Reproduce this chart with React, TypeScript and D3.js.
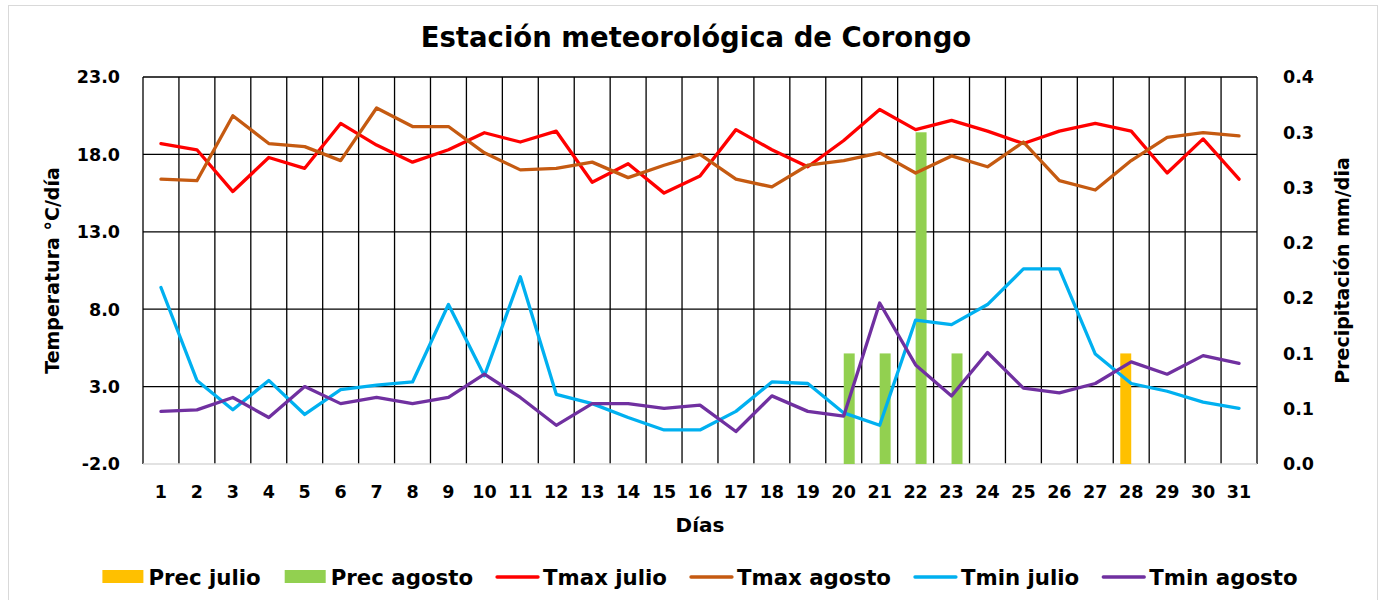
import * as d3 from "d3";
import { useEffect, useRef } from "react";

const days = ["1", "2", "3", "4", "5", "6", "7", "8", "9", "10", "11", "12", "13", "14", "15", "16",
  "17", "18", "19", "20", "21", "22", "23", "24", "25", "26", "27", "28", "29", "30", "31"];

const tmaxJulio = [18.7, 18.3, 15.6, 17.8, 17.1, 20.0, 18.6, 17.5, 18.3, 19.4, 18.8, 19.5, 16.2, 17.4, 15.5, 16.6,
  19.6, 18.3, 17.2, 18.9, 20.9, 19.6, 20.2, 19.5, 18.7, 19.5, 20.0, 19.5, 16.8, 19.0, 16.4];
const tmaxAgosto = [16.4, 16.3, 20.5, 18.7, 18.5, 17.6, 21.0, 19.8, 19.8, 18.1, 17.0, 17.1, 17.5, 16.5, 17.3, 18.0,
  16.4, 15.9, 17.3, 17.6, 18.1, 16.8, 17.9, 17.2, 18.8, 16.3, 15.7, 17.6, 19.1, 19.4, 19.2];
const tminJulio = [9.4, 3.4, 1.5, 3.4, 1.2, 2.8, 3.1, 3.3, 8.3, 3.7, 10.1, 2.5, 1.9, 1.0, 0.2, 0.2,
  1.4, 3.3, 3.2, 1.3, 0.5, 7.3, 7.0, 8.3, 10.6, 10.6, 5.1, 3.2, 2.7, 2.0, 1.6];
const tminAgosto = [1.4, 1.5, 2.3, 1.0, 3.0, 1.9, 2.3, 1.9, 2.3, 3.8, 2.3, 0.5, 1.9, 1.9, 1.6, 1.8,
  0.1, 2.4, 1.4, 1.1, 8.4, 4.4, 2.4, 5.2, 2.9, 2.6, 3.2, 4.6, 3.8, 5.0, 4.5];

const precJulio = [0, 0, 0, 0, 0, 0, 0, 0, 0, 0, 0, 0, 0, 0, 0, 0,
  0, 0, 0, 0, 0, 0, 0, 0, 0, 0, 0, 0.1, 0, 0, 0];
const precAgosto = [0, 0, 0, 0, 0, 0, 0, 0, 0, 0, 0, 0, 0, 0, 0, 0,
  0, 0, 0, 0.1, 0.1, 0.3, 0.1, 0, 0, 0, 0, 0, 0, 0, 0];

const tempTicks = [-2, 3, 8, 13, 18, 23];
const precTicks = [0, 0.05, 0.1, 0.15, 0.2, 0.25, 0.3, 0.35];

const barSeries = [
  { name: "Prec julio", color: "#FFC000", values: precJulio },
  { name: "Prec agosto", color: "#92D050", values: precAgosto },
];
const lineSeries = [
  { name: "Tmax julio", color: "#FF0000", values: tmaxJulio },
  { name: "Tmax agosto", color: "#C55A11", values: tmaxAgosto },
  { name: "Tmin julio", color: "#00B0F0", values: tminJulio },
  { name: "Tmin agosto", color: "#7030A0", values: tminAgosto },
];

export default function App() {
  const ref = useRef<SVGSVGElement>(null);

  const width = 1385;
  const height = 600;
  const left = 143, right = 1257, top = 77, bottom = 464;
  const font = "'DejaVu Sans', sans-serif";

  useEffect(() => {
    const svg = d3.select(ref.current);
    svg.selectAll("*").remove();

    const x = d3.scaleBand().domain(days).range([left, right]);
    const x1 = d3.scaleBand()
      .domain(barSeries.map(s => s.name))
      .range([0, x.bandwidth()])
      .paddingOuter(0.64);
    const y = d3.scaleLinear().domain([-2, 23]).range([bottom, top]);
    const y2 = d3.scaleLinear().domain([0, 0.35]).range([bottom, top]);

    // chart area frame
    svg.append("rect")
      .attr("x", 8.5).attr("y", 5.5)
      .attr("width", 1369).attr("height", 640)
      .attr("fill", "white")
      .attr("stroke", "#d9d9d9");

    // horizontal gridlines
    svg.append("g")
      .selectAll("line")
      .data(tempTicks.filter(t => t !== -2))
      .join("line")
      .attr("x1", left).attr("x2", right)
      .attr("y1", d => y(d)).attr("y2", d => y(d))
      .attr("stroke", "#000").attr("stroke-width", 1.3);

    // vertical gridlines at category edges
    const edges = [...days.map(d => x(d) as number), right];
    svg.append("g")
      .selectAll("line")
      .data(edges)
      .join("line")
      .attr("x1", d => d).attr("x2", d => d)
      .attr("y1", top).attr("y2", bottom)
      .attr("stroke", "#000").attr("stroke-width", 1.3);

    // bottom axis line
    svg.append("line")
      .attr("x1", left).attr("x2", right)
      .attr("y1", bottom).attr("y2", bottom)
      .attr("stroke", "#d9d9d9").attr("stroke-width", 1.5);

    // bars
    barSeries.forEach(s => {
      svg.append("g")
        .selectAll("rect")
        .data(s.values.map((v, i) => ({ v, d: days[i] })).filter(e => e.v > 0))
        .join("rect")
        .attr("x", e => (x(e.d) as number) + (x1(s.name) as number))
        .attr("width", x1.bandwidth())
        .attr("y", e => y2(e.v))
        .attr("height", e => y2(0) - y2(e.v))
        .attr("fill", s.color);
    });

    // lines
    const line = d3.line<number>()
      .x((_, i) => (x(days[i]) as number) + x.bandwidth() / 2)
      .y(v => y(v));
    lineSeries.forEach(s => {
      svg.append("path")
        .attr("d", line(s.values))
        .attr("fill", "none")
        .attr("stroke", s.color)
        .attr("stroke-width", 3.3)
        .attr("stroke-linejoin", "round")
        .attr("stroke-linecap", "round");
    });

    const txt = svg.append("g")
      .attr("font-family", font)
      .attr("font-weight", "bold")
      .attr("fill", "#000");

    // left ticks
    txt.append("g").selectAll("text")
      .data(tempTicks)
      .join("text")
      .attr("x", 120).attr("y", d => y(d))
      .attr("dy", "0.36em")
      .attr("text-anchor", "end")
      .attr("font-size", 17.5)
      .text(d => d.toFixed(1));

    // right ticks
    txt.append("g").selectAll("text")
      .data(precTicks)
      .join("text")
      .attr("x", 1283).attr("y", d => y2(d))
      .attr("dy", "0.36em")
      .attr("font-size", 17.5)
      .text(d => (Math.round(d * 10 + 1e-6) / 10).toFixed(1));

    // x ticks
    txt.append("g").selectAll("text")
      .data(days)
      .join("text")
      .attr("x", d => (x(d) as number) + x.bandwidth() / 2)
      .attr("y", 498)
      .attr("text-anchor", "middle")
      .attr("font-size", 17.5)
      .text(d => d);

    // titles
    txt.append("text")
      .attr("x", 696).attr("y", 47)
      .attr("text-anchor", "middle")
      .attr("font-size", 27.5)
      .text("Estación meteorológica de Corongo");

    txt.append("text")
      .attr("x", (left + right) / 2).attr("y", 532)
      .attr("text-anchor", "middle")
      .attr("font-size", 20)
      .text("Días");

    txt.append("text")
      .attr("transform", `translate(59,${(top + bottom) / 2}) rotate(-90)`)
      .attr("text-anchor", "middle")
      .attr("font-size", 19)
      .text("Temperatura °C/día");

    txt.append("text")
      .attr("transform", `translate(1349,${(top + bottom) / 2}) rotate(-90)`)
      .attr("text-anchor", "middle")
      .attr("font-size", 19)
      .text("Precipitación mm/dia");

    // legend
    const legend = svg.append("g")
      .attr("font-family", font)
      .attr("font-weight", "bold")
      .attr("font-size", 21.3);
    const items = [
      ...barSeries.map(s => ({ name: s.name, color: s.color, bar: true })),
      ...lineSeries.map(s => ({ name: s.name, color: s.color, bar: false })),
    ];
    const swatch = 41, gapText = 5, gapItem = 24, legendY = 577;
    const groups = items.map(it => {
      const g = legend.append("g");
      if (it.bar) {
        g.append("rect").attr("x", 0).attr("y", legendY - 7).attr("width", swatch).attr("height", 13).attr("fill", it.color);
      } else {
        g.append("line").attr("x1", 0).attr("x2", swatch).attr("y1", legendY).attr("y2", legendY)
          .attr("stroke", it.color).attr("stroke-width", 3.3).attr("stroke-linecap", "round");
      }
      const t = g.append("text").attr("x", swatch + gapText).attr("y", legendY).attr("dy", "0.36em").text(it.name);
      const w = (t.node() as SVGTextElement).getComputedTextLength();
      return { g, w: swatch + gapText + w };
    });
    const total = d3.sum(groups, d => d.w) + gapItem * (groups.length - 1);
    let cx = (left + right) / 2 - total / 2;
    groups.forEach(d => {
      d.g.attr("transform", `translate(${cx},0)`);
      cx += d.w + gapItem;
    });
  }, []);

  return (
    <div style={{ position: "absolute", left: 0, top: 0, background: "white" }}>
      <svg ref={ref} width={width} height={height} />
    </div>
  );
}
